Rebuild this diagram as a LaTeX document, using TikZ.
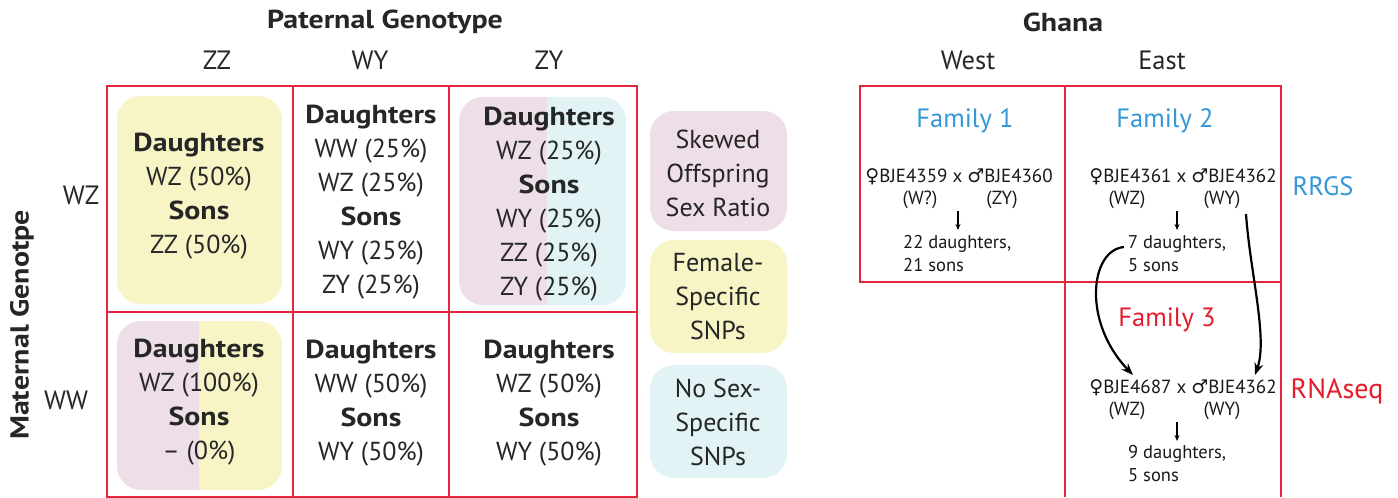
\documentclass[tikz,border=0pt]{standalone}
\usepackage{fontspec}
\setmainfont{PT Sans}[BoldFeatures={FakeStretch=1.15}]
\newfontfamily\symfont{DejaVu Sans}
\usetikzlibrary{arrows.meta}
\definecolor{gridred}{RGB}{230,38,60}
\definecolor{famblue}{RGB}{52,152,216}
\definecolor{famred}{RGB}{230,28,45}
\definecolor{bgyellow}{RGB}{247,244,198}
\definecolor{bgpink}{RGB}{237,222,232}
\definecolor{bgblue}{RGB}{225,243,244}
\newcommand{\fem}{{\symfont ♀}}
\newcommand{\mal}{{\symfont ♂}}
\begin{document}
\begin{tikzpicture}[x=1pt,y=-1pt,
  gridline/.style={draw=gridred, line width=2.5pt},
  cell/.style={align=center, font=\fontsize{26}{34}\selectfont, inner sep=0pt, text=black!85},
  head/.style={font=\fontsize{26}{30}\selectfont\bfseries, inner sep=0pt, text=black!85},
  sub/.style={font=\fontsize{26.5}{30}\selectfont, inner sep=0pt, text=black!85},
  fam/.style={font=\fontsize{26.5}{30}\selectfont, inner sep=0pt},
  cross/.style={font=\fontsize{19}{22}\selectfont, inner sep=0pt, text=black!90},
  offs/.style={font=\fontsize{18.5}{23}\selectfont, inner sep=0pt, align=left, anchor=north west, text=black!90},
  legendbox/.style={rounded corners=24pt},
  smallarrow/.style={-{Stealth[length=6pt,width=5pt]}, line width=1.1pt},
  bigarrow/.style={-{Stealth[length=12pt,width=9pt]}, line width=2.2pt}]
\useasboundingbox (0,0) rectangle (1398,498);
\fill[white] (0,0) rectangle (1398,498);

% coloured backgrounds
\fill[bgyellow, legendbox] (117,96) rectangle (282,304);
\begin{scope}
  \clip[legendbox] (459,97) rectangle (626,305);
  \fill[bgpink] (459,97) rectangle (547,305);
  \fill[bgblue] (547,97) rectangle (626,305);
\end{scope}
\begin{scope}
  \clip[legendbox] (117,321) rectangle (282,490);
  \fill[bgpink] (117,321) rectangle (199,490);
  \fill[bgyellow] (199,321) rectangle (282,490);
\end{scope}
\fill[bgpink, legendbox] (650,111) rectangle (787,231);
\fill[bgyellow, legendbox] (650,240) rectangle (787,353);
\fill[bgblue, legendbox] (650,365) rectangle (787,478);

% grid lines left
\draw[gridline] (107,86) rectangle (637,497);
\draw[gridline] (293,86) -- (293,497);
\draw[gridline] (449,86) -- (449,497);
\draw[gridline] (107,312) -- (637,312);
% grid lines right
\draw[gridline] (860,86) rectangle (1281,282);
\draw[gridline] (1065,86) -- (1065,497);
\draw[gridline] (1281,282) -- (1281,497);

% headers left
\node[head] (pat) at (385,22) {Paternal Genotype};
\node[sub] (pzz) at (217,60) {ZZ};
\node[sub] (pwy) at (370,60) {WY};
\node[sub] (pzy) at (549,60) {ZY};
\node[head, rotate=90] (mat) at (22,325) {Maternal Genotpe};
\node[sub] (mwz) at (81,195) {WZ};
\node[sub] (mww) at (66,400) {WW};

% cells
\node[cell] (c11) at (199,196) {\textbf{Daughters}\\WZ (50\%)\\\textbf{Sons}\\ZZ (50\%)};
\node[cell] (c12) at (371,202) {\textbf{Daughters}\\WW (25\%)\\WZ (25\%)\\\textbf{Sons}\\WY (25\%)\\ZY (25\%)};
\node[cell] (c13) at (549,204) {\textbf{Daughters}\\WZ (25\%)\\\textbf{Sons}\\WY (25\%)\\ZZ (25\%)\\ZY (25\%)};
\node[cell] (c21) at (199,402) {\textbf{Daughters}\\WZ (100\%)\\\textbf{Sons}\\– (0\%)};
\node[cell] (c22) at (371,403) {\textbf{Daughters}\\WW (50\%)\\\textbf{Sons}\\WY (50\%)};
\node[cell] (c23) at (549,403) {\textbf{Daughters}\\WZ (50\%)\\\textbf{Sons}\\WY (50\%)};

% legend
\node[cell] (l1) at (718,173) {Skewed\\Offspring\\Sex Ratio};
\node[cell] (l2) at (718,297) {Female-\\Specific\\SNPs};
\node[cell] (l3) at (718,422) {No Sex-\\Specific\\SNPs};

% right headers
\node[head] (gha) at (1063,22) {Ghana};
\node[sub] (west) at (968,60) {West};
\node[sub] (east) at (1162,60) {East};
\node[fam, text=famblue] (f1) at (965,121) {Family 1};
\node[fam, text=famblue] (f2) at (1165,121) {Family 2};
\node[fam, text=famred] (f3) at (1167,320) {Family 3};
\node[fam, text=famblue] (rrgs) at (1323,186) {RRGS};
\node[fam, text=famred, font=\fontsize{28}{30}\selectfont] (rna) at (1337,391) {RNAseq};

% family 1
\node[cross] (x1) at (959,177) {\fem BJE4359 x \mal BJE4360};
\node[cross] (g1a) at (920,200) {(W?)};
\node[cross] (g1b) at (1002,200) {(ZY)};
\node[offs] (o1) at (903,235) {22 daughters,\\21 sons};
\coordinate (a1s) at (958,211);
\coordinate (a1e) at (958,230);
\draw[smallarrow] (a1s) -- (a1e);

% family 2
\node[cross] (x2) at (1183,177) {\fem BJE4361 x \mal BJE4362};
\node[cross] (g2a) at (1127,200) {(WZ)};
\node[cross] (g2b) at (1222,200) {(WY)};
\node[offs] (o2) at (1128,235) {7 daughters,\\5 sons};
\coordinate (a2s) at (1177,211);
\coordinate (a2e) at (1177,230);
\draw[smallarrow] (a2s) -- (a2e);

% family 3
\node[cross] (x3) at (1183,388) {\fem BJE4687 x \mal BJE4362};
\node[cross] (g3a) at (1127,411) {(WZ)};
\node[cross] (g3b) at (1222,411) {(WY)};
\node[offs] (o3) at (1128,445) {9 daughters,\\5 sons};
\coordinate (a3s) at (1177,422);
\coordinate (a3e) at (1177,441);
\draw[smallarrow] (a3s) -- (a3e);

% curved arrows
\coordinate (c1s) at (1124,247);
\coordinate (c1e) at (1133,375);
\draw[bigarrow] (c1s) .. controls (1090,250) and (1082,322) .. (c1e);
\coordinate (c2s) at (1246,214);
\coordinate (c2e) at (1255,375);
\draw[bigarrow] (c2s) .. controls (1250,272) and (1268,338) .. (c2e);
\end{tikzpicture}
\end{document}
